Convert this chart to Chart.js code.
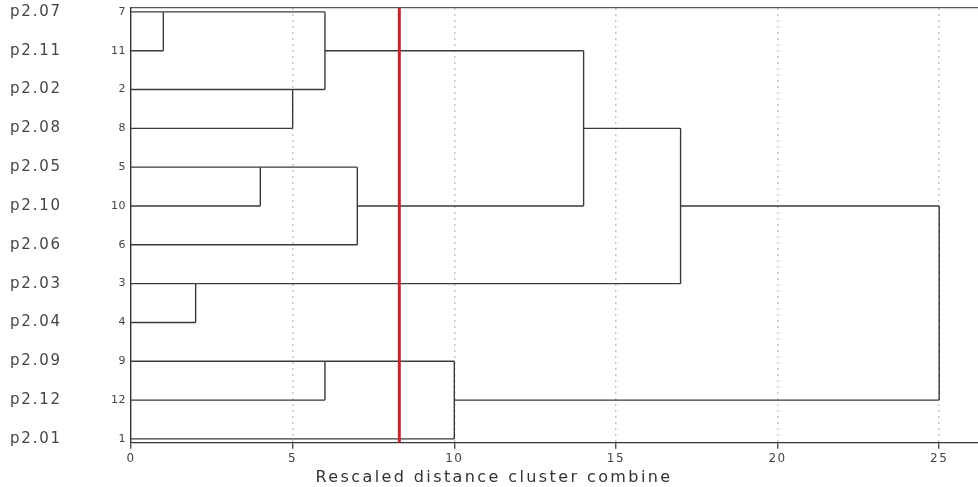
<!DOCTYPE html>
<html>
<head>
<meta charset="utf-8">
<script src="https://cdn.jsdelivr.net/npm/chart.js@4.4.1/dist/chart.umd.min.js"></script>
<style>
  body { margin: 0; background: #fff; }
  canvas { display: block; }
</style>
</head>
<body>
<canvas id="chart" width="978" height="487"></canvas>
<script>
// leaf order top to bottom
const caseLabels = ['p2.07', 'p2.11', 'p2.02', 'p2.08', 'p2.05', 'p2.10', 'p2.06', 'p2.03', 'p2.04', 'p2.09', 'p2.12', 'p2.01'];
const caseNumbers = [7, 11, 2, 8, 5, 10, 6, 3, 4, 9, 12, 1];

// agglomeration steps: leaves by case number, clusters as 'C' + step
const mergeLeft  = [7, 3, 5, 2, 'C1', 9, 'C3', 'C6', 'C5', 'C9', 'C10'];
const mergeRight = [11, 4, 10, 8, 'C4', 12, 6, 1, 'C7', 'C2', 'C8'];
const mergeDist  = [1, 2, 4, 5, 6, 6, 7, 10, 14, 17, 25];

const xTicks = [0, 5, 10, 15, 20, 25];
const cutDistance = 8.3;

const pos = {}, hgt = {};
caseNumbers.forEach((n, i) => { pos[n] = i; hgt[n] = 0; });
const segments = [];
mergeLeft.forEach((a, k) => {
  const b = mergeRight[k], d = mergeDist[k];
  segments.push([{x: hgt[a], y: pos[a]}, {x: d, y: pos[a]}]);
  segments.push([{x: hgt[b], y: pos[b]}, {x: d, y: pos[b]}]);
  segments.push([{x: d, y: pos[a]}, {x: d, y: pos[b]}]);
  const id = 'C' + (k + 1);
  pos[id] = Math.floor((pos[a] + pos[b]) / 2);
  hgt[id] = d;
});

const yMin = -0.1, yMax = caseNumbers.length - 0.9;

const datasets = segments.map(s => ({
  data: s, showLine: true, borderColor: '#3a3a3a', borderWidth: 1.4,
  pointRadius: 0, order: 1
}));
datasets.push({
  data: [{x: cutDistance, y: yMin}, {x: cutDistance, y: yMax}],
  showLine: true, borderColor: '#c4262e', borderWidth: 3, pointRadius: 0, order: 0
});

// the source text is set wide, so spread letters a little per box
const letterGaps = { x: '1.5px', y: '0.5px', names: '1.8px' };
const wrapSpacing = (c, box, fn, gap) => {
  if (!box || box['_sp_' + fn]) return;
  const orig = box[fn].bind(box);
  box[fn] = area => {
    c.ctx.letterSpacing = gap;
    orig(area);
    c.ctx.letterSpacing = '0px';
  };
  box['_sp_' + fn] = true;
};
const spacing = {
  id: 'spacing',
  beforeDraw(c) {
    Object.keys(letterGaps).forEach(k => wrapSpacing(c, c.scales[k], 'drawLabels', letterGaps[k]));
    wrapSpacing(c, c.titleBlock, 'draw', '2.4px');
  }
};

const rowTicks = s => { s.ticks = caseNumbers.map((_, i) => ({value: i})); };
const noPad = s => { s.paddingTop = 0; s.paddingBottom = 0; };
const txt = '#444';

new Chart(document.getElementById('chart'), {
  type: 'scatter',
  data: { datasets },
  plugins: [spacing],
  options: {
    responsive: false,
    animation: false,
    layout: { padding: { top: 8, left: 10, right: 0, bottom: 0 } },
    plugins: {
      legend: { display: false },
      tooltip: { enabled: false },
      title: {
        display: true, position: 'bottom', text: 'Rescaled distance cluster combine',
        color: '#333', font: { family: 'DejaVu Sans', size: 16, weight: 'normal' },
        padding: { top: 2, bottom: 0 }
      }
    },
    scales: {
      x: {
        type: 'linear', position: 'bottom', min: 0, max: 26.2,
        afterBuildTicks: s => { s.ticks = xTicks.map(v => ({value: v})); },
        afterFit: s => { s.height = 23; s.paddingLeft = 0; s.paddingRight = 0; },
        grid: {
          color: c => c.tick && c.tick.value === 0 ? 'rgba(0,0,0,0)' : '#c8c8c8',
          lineWidth: 1.5, borderDash: [2, 4], tickLength: 6, tickColor: '#333',
          tickWidth: 1.2, tickBorderDash: []
        },
        border: { display: true, color: '#333', width: 1.2, dash: [2, 4] },
        ticks: { color: txt, padding: 3, font: { family: 'DejaVu Sans', size: 12 } }
      },
      xTop: {
        type: 'linear', position: 'top', min: 0, max: 26.2,
        afterFit: s => { s.height = 0; s.paddingLeft = 0; s.paddingRight = 0; },
        grid: { display: false, drawTicks: false },
        border: { display: true, color: '#555', width: 1.2 },
        ticks: { display: false }
      },
      y: {
        type: 'linear', position: 'left', reverse: true, min: yMin, max: yMax, weight: 0,
        afterBuildTicks: rowTicks,
        afterFit: s => { s.width = 61; noPad(s); },
        grid: { display: false, drawTicks: false },
        border: { display: true, color: '#333', width: 1.4 },
        ticks: {
          autoSkip: false, padding: 5, color: txt,
          font: { family: 'DejaVu Sans', size: 11 },
          callback: v => caseNumbers[v]
        }
      },
      names: {
        type: 'linear', position: 'left', reverse: true, min: yMin, max: yMax, weight: 1,
        afterBuildTicks: rowTicks,
        afterFit: s => { s.width = 60; noPad(s); },
        grid: { display: false, drawTicks: false },
        border: { display: false },
        ticks: {
          autoSkip: false, crossAlign: 'far', color: txt,
          font: { family: 'DejaVu Sans', size: 15 },
          callback: v => caseLabels[v]
        }
      }
    }
  }
});
</script>
</body>
</html>
